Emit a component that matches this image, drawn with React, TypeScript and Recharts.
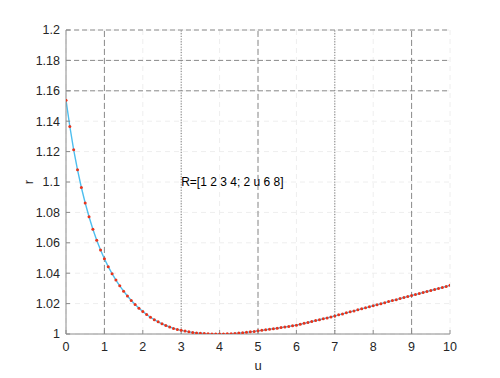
import React from "react";
import { CartesianGrid, Line, LineChart, ReferenceDot, ReferenceLine, XAxis, YAxis } from "recharts";

// sample points, u step 0.1 from 0 to 10
const uValues = [
  0, 0.1, 0.2, 0.3, 0.4, 0.5, 0.6, 0.7, 0.8, 0.9,
  1, 1.1, 1.2, 1.3, 1.4, 1.5, 1.6, 1.7, 1.8, 1.9,
  2, 2.1, 2.2, 2.3, 2.4, 2.5, 2.6, 2.7, 2.8, 2.9,
  3, 3.1, 3.2, 3.3, 3.4, 3.5, 3.6, 3.7, 3.8, 3.9,
  4, 4.1, 4.2, 4.3, 4.4, 4.5, 4.6, 4.7, 4.8, 4.9,
  5, 5.1, 5.2, 5.3, 5.4, 5.5, 5.6, 5.7, 5.8, 5.9,
  6, 6.1, 6.2, 6.3, 6.4, 6.5, 6.6, 6.7, 6.8, 6.9,
  7, 7.1, 7.2, 7.3, 7.4, 7.5, 7.6, 7.7, 7.8, 7.9,
  8, 8.1, 8.2, 8.3, 8.4, 8.5, 8.6, 8.7, 8.8, 8.9,
  9, 9.1, 9.2, 9.3, 9.4, 9.5, 9.6, 9.7, 9.8, 9.9,
  10,
];

const rValues = [
  1.1538, 1.1365, 1.1212, 1.108, 1.0964, 1.0862, 1.0771, 1.0689, 1.0617, 1.0552,
  1.0495, 1.0443, 1.0397, 1.0355, 1.0317, 1.0282, 1.025, 1.0221, 1.0194, 1.017,
  1.0148, 1.0128, 1.011, 1.0094, 1.008, 1.0067, 1.0056, 1.0046, 1.0037, 1.003,
  1.0024, 1.0019, 1.0014, 1.001, 1.0007, 1.0005, 1.0003, 1.0001, 1.0, 1.0,
  1.0, 1.0, 1.0001, 1.0002, 1.0004, 1.0006, 1.0008, 1.0011, 1.0014, 1.0017,
  1.0021, 1.0024, 1.0028, 1.0032, 1.0035, 1.0038, 1.0042, 1.0046, 1.005, 1.0054,
  1.0058, 1.0064, 1.007, 1.0076, 1.0082, 1.0088, 1.0094, 1.01, 1.0106, 1.0112,
  1.0119, 1.0126, 1.0132, 1.0139, 1.0146, 1.0152, 1.0159, 1.0166, 1.0172, 1.0179,
  1.0186, 1.0193, 1.0199, 1.0206, 1.0213, 1.022, 1.0226, 1.0233, 1.024, 1.0246,
  1.0253, 1.026, 1.0266, 1.0273, 1.028, 1.0286, 1.0293, 1.03, 1.0306, 1.0313,
  1.032,
];

const xTicks = [0, 1, 2, 3, 4, 5, 6, 7, 8, 9, 10];
const yTicks = [1, 1.02, 1.04, 1.06, 1.08, 1.1, 1.12, 1.14, 1.16, 1.18, 1.2];
const dashedX = [1, 5, 9];
const dottedX = [3, 7];
const dashedY = [1.16, 1.18, 1.2];
const note = "R=[1 2 3 4; 2 u 6 8]";

const data = uValues.map((u, i) => ({ u, r: rValues[i] }));

const font = "'Liberation Sans', Arial, sans-serif";
const tickStyle = { fontSize: 12.5, fill: "#262626", fontFamily: font };
const axisGray = "#8c8c8c";

export default function App() {
  return (
    <div style={{ position: "absolute", left: 0, top: 0, background: "#fff" }}>
      <LineChart width={500} height={378} data={data} margin={{ top: 30, right: 50, bottom: 0, left: 0 }}>
        <CartesianGrid stroke="#eeeeee" strokeDasharray="5 4" />
        <XAxis
          dataKey="u"
          type="number"
          domain={[0, 10]}
          ticks={xTicks}
          height={44}
          tick={tickStyle}
          tickSize={-4}
          tickMargin={12}
          stroke={axisGray}
          allowDataOverflow
          label={{ value: "u", position: "insideBottom", offset: 8, style: { ...tickStyle, fontSize: 13 } }}
        />
        <XAxis xAxisId="top" orientation="top" type="number" domain={[0, 10]} ticks={xTicks} height={0} tick={false} tickSize={-4} stroke={axisGray} />
        <YAxis
          type="number"
          domain={[1, 1.2]}
          ticks={yTicks}
          width={66}
          tick={tickStyle}
          tickSize={-4}
          tickMargin={10}
          stroke={axisGray}
          allowDataOverflow
          label={{
            content: ({ viewBox }: any) => (
              <text
                x={viewBox.x + 28}
                y={viewBox.y + viewBox.height / 2}
                transform={`rotate(-90 ${viewBox.x + 28} ${viewBox.y + viewBox.height / 2})`}
                textAnchor="middle"
                dominantBaseline="central"
                style={{ ...tickStyle, fontSize: 13 }}
              >
                r
              </text>
            ),
          }}
        />
        <YAxis yAxisId="right" orientation="right" type="number" domain={[1, 1.2]} ticks={yTicks} width={0} tick={false} tickSize={-4} stroke={axisGray} />
        {dashedX.map((x) => (
          <ReferenceLine key={`dx${x}`} x={x} stroke="#8a8a8a" strokeDasharray="6 3" />
        ))}
        {dottedX.map((x) => (
          <ReferenceLine key={`ox${x}`} x={x} stroke="#7a7a7a" strokeDasharray="1.2 1.5" />
        ))}
        {dashedY.map((y) => (
          <ReferenceLine key={`dy${y}`} y={y} stroke="#8a8a8a" strokeDasharray="5 3" />
        ))}
        <Line
          type="linear"
          dataKey="r"
          stroke="#4DBEEE"
          strokeWidth={1.4}
          isAnimationActive={false}
          dot={{ r: 1.5, fill: "#e8341c", stroke: "none" }}
          activeDot={false}
        />
        <ReferenceDot
          x={3}
          y={1.1}
          r={0}
          stroke="none"
          label={{ value: note, position: "right", offset: 0, style: { fontSize: 12, fill: "#000", fontFamily: font } }}
        />
      </LineChart>
    </div>
  );
}
